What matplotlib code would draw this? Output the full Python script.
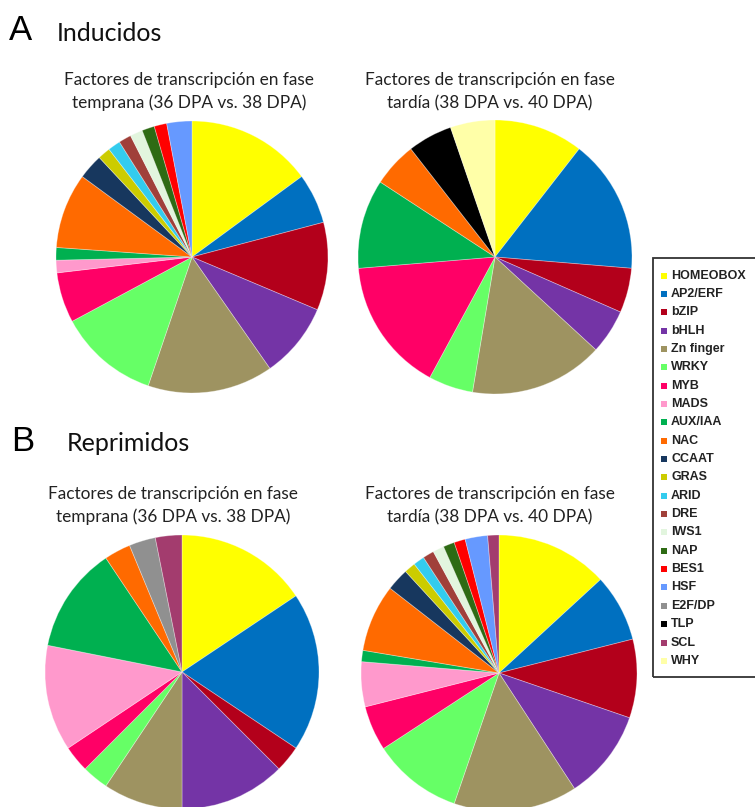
import matplotlib
matplotlib.use("Agg")
import matplotlib.pyplot as plt
from matplotlib.patches import Rectangle

# Transcription-factor families and their colours
families = ["HOMEOBOX", "AP2/ERF", "bZIP", "bHLH", "Zn finger", "WRKY", "MYB",
            "MADS", "AUX/IAA", "NAC", "CCAAT", "GRAS", "ARID", "DRE", "IWS1",
            "NAP", "BES1", "HSF", "E2F/DP", "TLP", "SCL", "WHY"]
colors = ["#FFFF00", "#0070C0", "#B3001B", "#7434A6", "#9E9361", "#66FF66",
          "#FF0066", "#FF99CC", "#00B050", "#FF6A00", "#17375E", "#CCCC00",
          "#33CCEE", "#A0403A", "#E2F5DE", "#2E6B14", "#FF0000", "#6699FF",
          "#909090", "#000000", "#A33C6E", "#FFFFA8"]

# Number of genes per family (same order as families)
induced_early = [10, 4, 7, 6, 10, 8, 4, 1, 1, 6, 2, 1, 1, 1, 1, 1, 1, 2, 0, 0, 0, 0]
induced_late = [2, 3, 1, 1, 3, 1, 3, 0, 2, 1, 0, 0, 0, 0, 0, 0, 0, 0, 0, 1, 0, 1]
repressed_early = [5, 6, 1, 4, 3, 1, 1, 4, 4, 1, 0, 0, 0, 0, 0, 0, 0, 0, 1, 0, 1, 0]
repressed_late = [10, 6, 7, 8, 11, 8, 4, 4, 1, 6, 2, 1, 1, 1, 1, 1, 1, 2, 0, 0, 1, 0]

title_early = ["Factores de transcripción en fase", "temprana (36 DPA vs. 38 DPA)"]
title_late = ["Factores de transcripción en fase", "tardía (38 DPA vs. 40 DPA)"]

W, H = 755, 807
fig = plt.figure(figsize=(W / 100, H / 100), dpi=100)
fig.patch.set_facecolor("white")

title_font = "Lato"


def px(x, y):
    return x / W, 1 - y / H


def pie_at(values, cx, cy, r):
    ax = fig.add_axes([(cx - r) / W, 1 - (cy + r) / H, 2 * r / W, 2 * r / H])
    vals = [v for v in values if v > 0]
    cols = [c for v, c in zip(values, colors) if v > 0]
    ax.pie(vals, colors=cols, startangle=90, counterclock=False, radius=1.0,
           wedgeprops=dict(edgecolor=(1, 1, 1, 0.35), linewidth=0.6))
    ax.set_xlim(-1.0, 1.0)
    ax.set_ylim(-1.0, 1.0)
    ax.set_aspect("equal")
    ax.axis("off")
    return ax


pie_at(induced_early, 192, 257, 136)
pie_at(induced_late, 495, 257, 137)
pie_at(repressed_early, 182, 672, 137)
pie_at(repressed_late, 499, 673, 138)

# Pie titles (two lines each, placed by baseline)
for x, y, lines in [(189, 85, title_early), (490, 85, title_late),
                    (173, 499, title_early), (490, 499, title_late)]:
    for k, line in enumerate(lines):
        fig.text(*px(x, y + 23 * k), line, ha="center", va="baseline",
                 fontsize=12.4, family=title_font, color="#222222")

# Panel letters and headings
fig.text(*px(9, 40), "A", fontsize=25, family="Liberation Sans",
         va="baseline", ha="left", color="black")
fig.text(*px(57, 41), "Inducidos", fontsize=18, family=title_font,
         va="baseline", ha="left", color="#111111")
fig.text(*px(11, 451), "B", fontsize=25, family="Liberation Sans",
         va="baseline", ha="left", color="black")
fig.text(*px(67, 451), "Reprimidos", fontsize=18, family=title_font,
         va="baseline", ha="left", color="#111111")

# Legend box with one entry per family
fig.patches.append(Rectangle(px(653, 677), 120 / W, (677 - 258) / H,
                             transform=fig.transFigure, fill=False,
                             edgecolor="#333333", linewidth=1.3))
y0, dy = 275.5, 18.35
for i, (name, col) in enumerate(zip(families, colors)):
    y = y0 + i * dy
    fig.patches.append(Rectangle(px(661, y + 3), 6 / W, 6 / H,
                                 transform=fig.transFigure, facecolor=col,
                                 edgecolor="none"))
    fig.text(*px(671, y), name, fontsize=9, fontweight="bold",
             family="Liberation Sans", va="center", ha="left", color="#222222")

fig.savefig("out.png", dpi=100)
